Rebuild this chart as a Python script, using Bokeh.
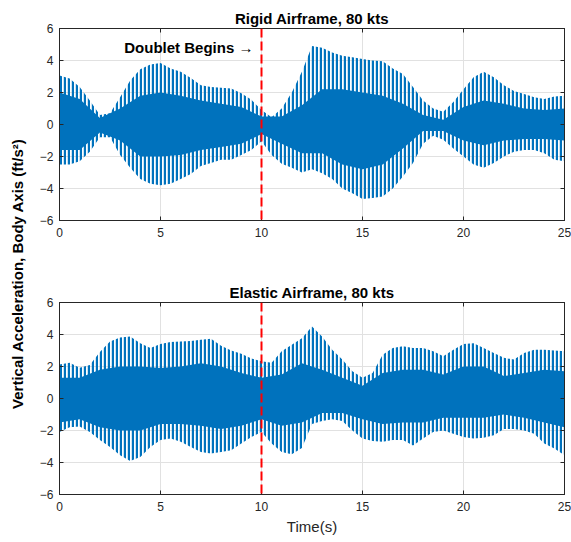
import numpy as np
from bokeh.plotting import figure
from bokeh.layouts import row, column
from bokeh.models import Range1d, FixedTicker, LinearAxis, ColumnDataSource, Span
from bokeh.core.properties import value
from bokeh.embed import file_html
from bokeh.resources import INLINE

FONT = "Liberation Sans"
BLUE = "#0072BD"
AX = "#262626"

# ---------------- data ----------------
# envelope samples every 0.5 s: spike tops / spike bottoms
t_env = np.linspace(0, 25, 51)
rigid_hi = [3.07, 2.87, 2.35, 1.5, 0.6, 0.7, 1.7, 2.75, 3.45, 3.75,
            3.85, 3.5, 3.3, 2.9, 2.45, 2.35, 2.3, 2.25, 1.95, 1.55,
            0.9, 0.45, 1.0, 2.0, 3.3, 4.9, 4.8, 4.5, 4.3, 4.2,
            4.1, 4.0, 3.95, 3.5, 3.15, 2.35, 1.5, 1.0, 0.8, 1.4,
            2.2, 2.95, 3.3, 2.95, 2.45, 2.1, 1.9, 1.7, 1.6, 1.75,
            1.8]
rigid_lo = [-2.5, -2.5, -2.3, -1.7, -0.8, -0.8, -1.9, -2.7, -3.4, -3.7,
            -3.8, -3.7, -3.4, -3.1, -2.6, -2.4, -2.2, -2.2, -1.9, -1.6,
            -1.05, -1.9, -2.45, -2.7, -3.0, -2.8, -3.05, -3.4, -4.0, -4.3,
            -4.65, -4.6, -4.5, -4.0, -3.25, -2.4, -1.2, -0.7, -0.95, -1.5,
            -2.0, -2.5, -2.7, -2.4, -2.0, -1.7, -1.6, -1.6, -1.8, -2.2,
            -2.3]
elastic_hi = [2.12, 2.23, 1.92, 2.1, 2.9, 3.57, 3.81, 3.88, 3.46, 3.15,
              3.4, 3.53, 3.57, 3.6, 3.67, 3.73, 3.3, 3.0, 2.8, 2.5,
              2.33, 2.23, 2.95, 3.36, 3.77, 4.5, 3.88, 3.05, 2.43, 1.71,
              1.3, 1.6, 2.74, 3.15, 3.26, 3.15, 3.15, 2.95, 2.64, 3.05,
              3.4, 3.46, 3.15, 2.85, 2.54, 2.43, 2.85, 3.05, 3.05, 3.0,
              2.95]
elastic_lo = [-2.1, -1.8, -1.75, -2.1, -2.6, -3.03, -3.55, -3.9, -3.65, -3.03,
              -2.6, -2.5, -2.7, -3.03, -3.34, -3.44, -3.34, -3.24, -2.82, -2.41,
              -2.1, -2.82, -3.34, -3.48, -3.1, -1.6, -1.4, -1.3, -1.4, -2.0,
              -2.5, -2.65, -2.7, -2.6, -2.6, -2.93, -2.5, -2.1, -2.0, -2.2,
              -2.41, -2.5, -2.45, -2.3, -1.9, -1.9, -2.0, -2.2, -2.82, -3.13,
              -3.55]

# solid core of the oscillation, sampled every 1 s
t_core = np.linspace(0, 25, 26)
rigid_core_hi = [2.0, 1.6, 0.4, 1.0, 1.8, 2.0, 1.8, 1.5, 1.3, 1.1, 0.5, 0.5, 1.2,
                 2.2, 2.2, 2.0, 1.8, 1.3, 0.6, 0.3, 1.1, 1.5, 1.3, 1.0, 0.9, 1.0]
rigid_core_lo = [-1.6, -1.6, -0.5, -1.0, -2.0, -2.0, -1.9, -1.6, -1.4, -1.2, -0.6, -1.2, -1.8,
                 -1.8, -2.5, -2.8, -2.5, -1.5, -0.4, -0.4, -1.0, -1.3, -1.0, -0.9, -0.9, -1.0]
elastic_core_hi = [1.3, 1.3, 1.8, 2.0, 2.0, 1.9, 2.0, 2.2, 2.0, 1.6, 1.3, 1.5, 2.2,
                   1.8, 1.3, 0.8, 1.6, 1.8, 1.8, 1.5, 2.0, 2.0, 1.4, 1.6, 1.8, 1.7]
elastic_core_lo = [-1.5, -1.3, -1.8, -2.0, -2.0, -1.6, -1.6, -1.7, -1.9, -1.7, -1.3, -1.7, -1.5,
                   -0.9, -0.9, -1.3, -1.6, -1.5, -1.5, -1.2, -1.2, -1.2, -1.0, -1.2, -1.5, -1.8]

doublet_time = 10
x_ticks = [0, 5, 10, 15, 20, 25]
y_ticks = [-6, -4, -2, 0, 2, 4, 6]
titles = ["Rigid Airframe, 80 kts", "Elastic Airframe, 80 kts"]
annotation = "Doublet Begins \u2192"
y_label = "Vertical Acceleration, Body Axis (ft/s\u00b2)"
x_label = "Time(s)"


def style_axis(ax, labels=True):
    ax.axis_line_color = AX
    ax.major_tick_line_color = AX
    ax.major_tick_in = 4
    ax.major_tick_out = 0
    ax.minor_tick_line_color = None
    ax.major_label_text_font = FONT
    if labels:
        ax.major_label_text_color = AX
        ax.major_label_text_font_size = "12px"
        ax.major_label_standoff = 7
    else:
        ax.major_label_text_color = None
        ax.major_label_text_alpha = 0
        ax.major_label_text_font_size = "1px"
        ax.major_label_standoff = 0


def panel(title, hi, lo, chi, clo, height, top_b, bottom_b, show_xlabel=False):
    p = figure(width=541, height=height, x_range=Range1d(0, 25), y_range=Range1d(-6, 6),
               toolbar_location=None, output_backend="svg",
               min_border_left=29, min_border_right=7,
               min_border_top=top_b, min_border_bottom=bottom_b)
    p.below[0].ticker = FixedTicker(ticks=x_ticks)
    p.left[0].ticker = FixedTicker(ticks=y_ticks)
    style_axis(p.below[0])
    style_axis(p.left[0])
    p.left[0].major_label_standoff = 6
    p.add_layout(LinearAxis(ticker=FixedTicker(ticks=y_ticks)), "right")
    p.add_layout(LinearAxis(ticker=FixedTicker(ticks=x_ticks)), "above")
    style_axis(p.right[0], labels=False)
    style_axis(p.above[0], labels=False)
    p.xgrid.ticker = FixedTicker(ticks=x_ticks)
    p.ygrid.ticker = FixedTicker(ticks=y_ticks)
    p.grid.grid_line_color = "#e1e1e1"
    p.grid.grid_line_width = 1
    p.outline_line_color = AX
    p.outline_line_width = 1

    env = ColumnDataSource(dict(t=t_env, hi=hi, lo=lo))
    core = ColumnDataSource(dict(t=t_core, hi=chi, lo=clo))
    p.varea(x="t", y1="lo", y2="hi", source=env, fill_alpha=0,
            hatch_pattern="vertical_line", hatch_color=BLUE, hatch_scale=4, hatch_weight=2.4)
    p.varea(x="t", y1="lo", y2="hi", source=core, fill_color=BLUE)

    p.add_layout(Span(location=doublet_time, dimension="height", line_color="#ff0000",
                      line_dash="9 4", line_width=2))

    p.title.text = title
    p.title.align = "center"
    p.title.text_font = FONT
    p.title.text_font_size = "15px"
    p.title.text_font_style = "bold"
    p.title.text_color = "black"
    p.title.standoff = 4

    if show_xlabel:
        ax = p.below[0]
        ax.axis_label = x_label
        ax.axis_label_text_font = FONT
        ax.axis_label_text_font_size = "15px"
        ax.axis_label_text_font_style = "normal"
        ax.axis_label_text_color = AX
        ax.axis_label_standoff = 4
    return p


p1 = panel(titles[0], rigid_hi, rigid_lo, rigid_core_hi, rigid_core_lo, 270, 28, 50)
p1.text(x=[9.6], y=[4.8], text=[annotation], text_align="right", text_baseline="middle",
        text_font=value(FONT), text_font_style="bold", text_font_size="15px", text_color="black")
p2 = panel(titles[1], elastic_hi, elastic_lo, elastic_core_hi, elastic_core_lo, 272, 32, 48,
           show_xlabel=True)

lab = figure(width=30, height=542, x_range=Range1d(0, 1), y_range=Range1d(0, 1),
             toolbar_location=None, output_backend="svg", min_border=0)
lab.axis.visible = False
lab.grid.visible = False
lab.outline_line_color = None
lab.text(x=[0.55], y=[1 - 273 / 542], text=[y_label], angle=np.pi / 2,
         text_align="center", text_baseline="middle", text_font=value(FONT),
         text_font_style="bold", text_font_size="15px", text_color="black")

layout = row(lab, column(p1, p2))
open("out.html", "w").write(file_html(layout, INLINE))
